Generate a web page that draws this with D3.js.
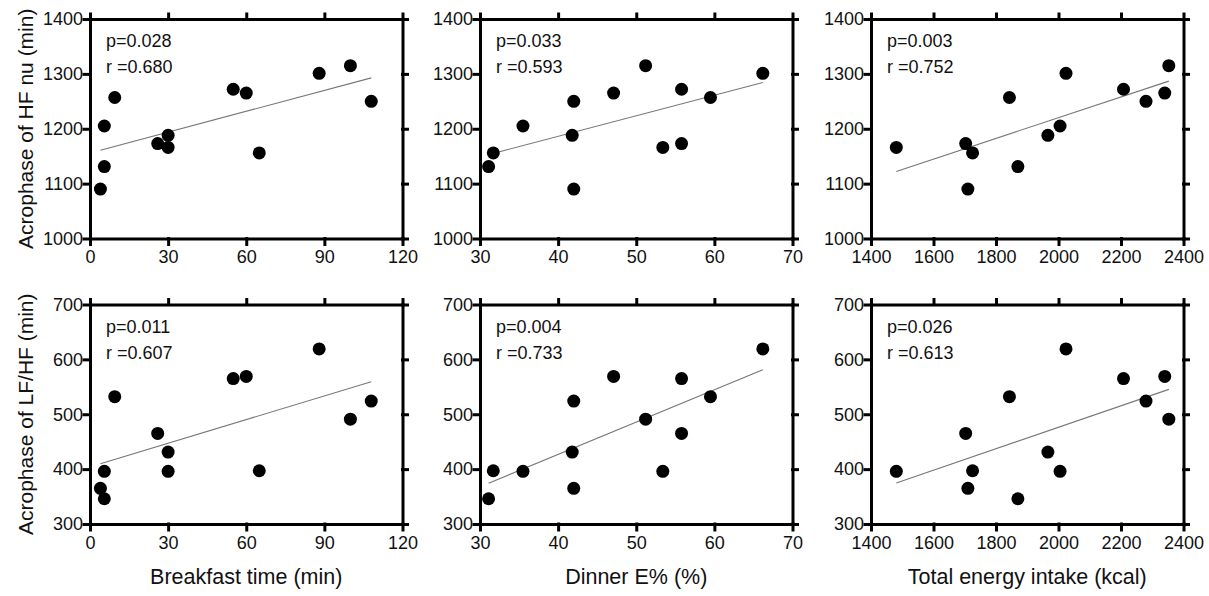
<!DOCTYPE html>
<html>
<head>
<meta charset="utf-8">
<script src="https://cdn.jsdelivr.net/npm/d3@7"></script>
<style>
  body { margin: 0; background: #fff; }
  svg text { font-family: Arial, "Liberation Sans", sans-serif; fill: #111; }
  .axis path, .axis line { stroke: #000; stroke-width: 3; stroke-linecap: square; }
  .axis text { font-size: 18px; }
</style>
</head>
<body>
<svg id="chart" width="1209" height="596"></svg>
<script>
// one value per subject (n = 13), same subject order in every array
const breakfastTime = [4, 5.5, 5.5, 9.5, 26, 30, 30, 55, 60, 65, 88, 100, 108];
const dinnerEnergy  = [42.0, 31.1, 35.5, 59.5, 55.8, 41.8, 53.4, 55.8, 47.1, 31.7, 66.2, 51.2, 42.0];
const totalEnergy   = [1710, 1870, 2005, 1843, 1703, 1966, 1481, 2208, 2340, 1725, 2024, 2353, 2280];
const hfAcrophase   = [1090, 1131, 1205, 1257, 1173, 1188, 1166, 1272, 1265, 1156, 1301, 1315, 1250];
const lfhfAcrophase = [365, 346, 396, 532, 465, 431, 396, 565, 569, 397, 619, 491, 524];

const xLabels = ['Breakfast time (min)', 'Dinner E% (%)', 'Total energy intake (kcal)'];
const yLabels = ['Acrophase of HF nu (min)', 'Acrophase of LF/HF (min)'];
const xDomains = [[0, 120], [30, 70], [1400, 2400]];
const xTicks = [[0, 30, 60, 90, 120], [30, 40, 50, 60, 70], [1400, 1600, 1800, 2000, 2200, 2400]];
const yDomains = [[1000, 1400], [300, 700]];
const yTicks = [[1000, 1100, 1200, 1300, 1400], [300, 400, 500, 600, 700]];
const pLabels = [['p=0.028', 'p=0.033', 'p=0.003'], ['p=0.011', 'p=0.004', 'p=0.026']];
const rLabels = [['r =0.680', 'r =0.593', 'r =0.752'], ['r =0.607', 'r =0.733', 'r =0.613']];

// layout
const colLeft = [90, 480, 871];
const rowTop = [19, 304.5];
const plotW = 312.5, plotH = 219.5;

const xVars = [breakfastTime, dinnerEnergy, totalEnergy];
const yVars = [hfAcrophase, lfhfAcrophase];

const svg = d3.select('#chart');

// least squares line over the x range of the data
function fitLine(xs, ys) {
  const mx = d3.mean(xs), my = d3.mean(ys);
  const sxy = d3.sum(xs, (v, i) => (v - mx) * (ys[i] - my));
  const sxx = d3.sum(xs, v => (v - mx) * (v - mx));
  const b = sxy / sxx, a = my - b * mx;
  const [x0, x1] = d3.extent(xs);
  return [[x0, a + b * x0], [x1, a + b * x1]];
}

yVars.forEach((yv, row) => {
  xVars.forEach((xv, col) => {
    const g = svg.append('g')
      .attr('transform', `translate(${colLeft[col]},${rowTop[row]})`);

    const x = d3.scaleLinear().domain(xDomains[col]).range([0, plotW]);
    const y = d3.scaleLinear().domain(yDomains[row]).range([plotH, 0]);

    // four sides, ticks pointing outward, labels only bottom/left
    g.append('g').attr('class', 'axis')
      .attr('transform', `translate(0,${plotH})`)
      .call(d3.axisBottom(x).tickValues(xTicks[col]).tickFormat(d3.format('d'))
        .tickSize(6).tickSizeOuter(0).tickPadding(6));
    g.append('g').attr('class', 'axis')
      .call(d3.axisTop(x).tickValues(xTicks[col]).tickFormat('')
        .tickSize(5).tickSizeOuter(0));
    g.append('g').attr('class', 'axis')
      .call(d3.axisLeft(y).tickValues(yTicks[row]).tickFormat(d3.format('d'))
        .tickSize(6).tickSizeOuter(0).tickPadding(1));
    g.append('g').attr('class', 'axis')
      .attr('transform', `translate(${plotW},0)`)
      .call(d3.axisRight(y).tickValues(yTicks[row]).tickFormat('')
        .tickSize(5).tickSizeOuter(0));

    // regression line
    const fit = fitLine(xv, yv);
    g.append('path')
      .attr('d', d3.line().x(d => x(d[0])).y(d => y(d[1]))(fit))
      .attr('fill', 'none')
      .attr('stroke', '#777')
      .attr('stroke-width', 1.1);

    // points
    g.selectAll('circle')
      .data(xv.map((v, i) => [v, yv[i]]))
      .join('circle')
      .attr('cx', d => x(d[0]))
      .attr('cy', d => y(d[1]))
      .attr('r', 6.5)
      .attr('fill', '#000');

    // stats
    g.append('text').attr('x', 16).attr('y', 28)
      .style('font-size', '18px').text(pLabels[row][col]);
    g.append('text').attr('x', 16).attr('y', 54)
      .style('font-size', '18px').text(rLabels[row][col]);

    if (row === 1) {
      g.append('text')
        .attr('x', plotW / 2).attr('y', plotH + 60)
        .attr('text-anchor', 'middle')
        .style('font-size', '21.5px')
        .text(xLabels[col]);
    }
    if (col === 0) {
      g.append('text')
        .attr('transform', `translate(-64,${plotH / 2}) rotate(-90)`)
        .attr('text-anchor', 'middle')
        .attr('dy', '0.35em')
        .style('font-size', '21px')
        .text(yLabels[row]);
    }
  });
});
</script>
</body>
</html>
